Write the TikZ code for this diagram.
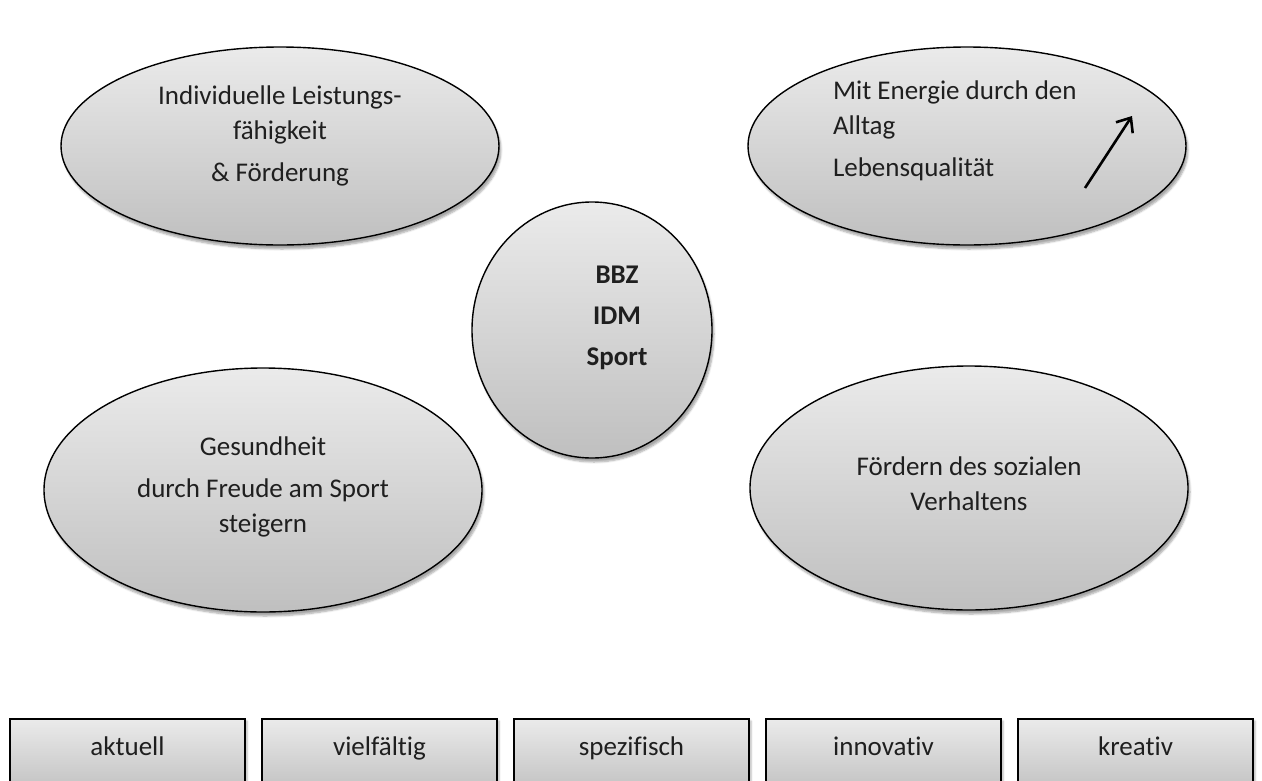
\documentclass[tikz,border=0pt]{standalone}
\usepackage{fontspec}
\setmainfont[Ligatures=NoCommon]{Carlito}
\usetikzlibrary{positioning,shapes.geometric,shadows.blur,arrows.meta}

\begin{document}
\begin{tikzpicture}[
		x=1pt, y=-1pt,
		every node/.style = {
			outer sep=0cm, inner sep=0cm,
			text=black!88,
			font=\fontsize{27}{35}\selectfont
		},
		blob/.style = {
			draw, ellipse, line width=1.4pt,
			top color=black!8, bottom color=black!25,
			blur shadow={shadow xshift=2pt, shadow yshift=-4pt, shadow blur steps=6, shadow opacity=35},
			minimum width=438pt, minimum height=198pt
		},
		tag/.style = {
			draw, rectangle, line width=1.4pt,
			top color=black!8, bottom color=black!25,
			blur shadow={shadow xshift=2pt, shadow yshift=-2pt, shadow blur steps=4, shadow opacity=30},
			minimum width=235pt, text height=36pt, text depth=40pt,
			anchor=north west, node distance=17pt
		},
		>={Straight Barb[length=12pt,width=20pt]}
		]
		\useasboundingbox (0,0) rectangle (1262,780);
		% center circle and the four fields
		\node [blob, minimum width=240pt, minimum height=256pt] (c) at (592,330) {};
		\node [blob] (e1) at (280,146) {};
		\node [blob] (e2) at (967,146) {};
		\node [blob, minimum height=244pt] (e3) at (263,490) {};
		\node [blob, minimum height=244pt] (e4) at (969,488) {};
		% texts (base = last line)
		\node [anchor=base, align=center, font=\fontsize{27}{41}\selectfont\bfseries] (tc) at (617,365) {BBZ\\IDM\\Sport};
		\node [anchor=base, align=center] (t1) at (280,181) {Individuelle Leistungs-\\fähigkeit\\[7pt]\& Förderung};
		\node [anchor=base west, align=left] (t2) at (833,176) {Mit Energie durch den\\Alltag\\[7pt]Lebensqualität};
		\node [anchor=base, align=center] (t3) at (263,532) {Gesundheit\\[7pt]durch Freude am Sport\\steigern};
		\node [anchor=base, align=center] (t4) at (969,510) {Fördern des sozialen\\Verhaltens};
		\coordinate (a1) at (1085,188);
		\coordinate (a2) at (1132,116);
		\draw[->, line width=2.6pt] (a1) -- (a2);
		% keywords
		\node [tag] (k1) at (10,719) {aktuell};
		\node [tag, right=of k1] (k2) {vielfältig};
		\node [tag, right=of k2] (k3) {spezifisch};
		\node [tag, right=of k3] (k4) {innovativ};
		\node [tag, right=of k4] (k5) {kreativ};
	\end{tikzpicture}
\end{document}
